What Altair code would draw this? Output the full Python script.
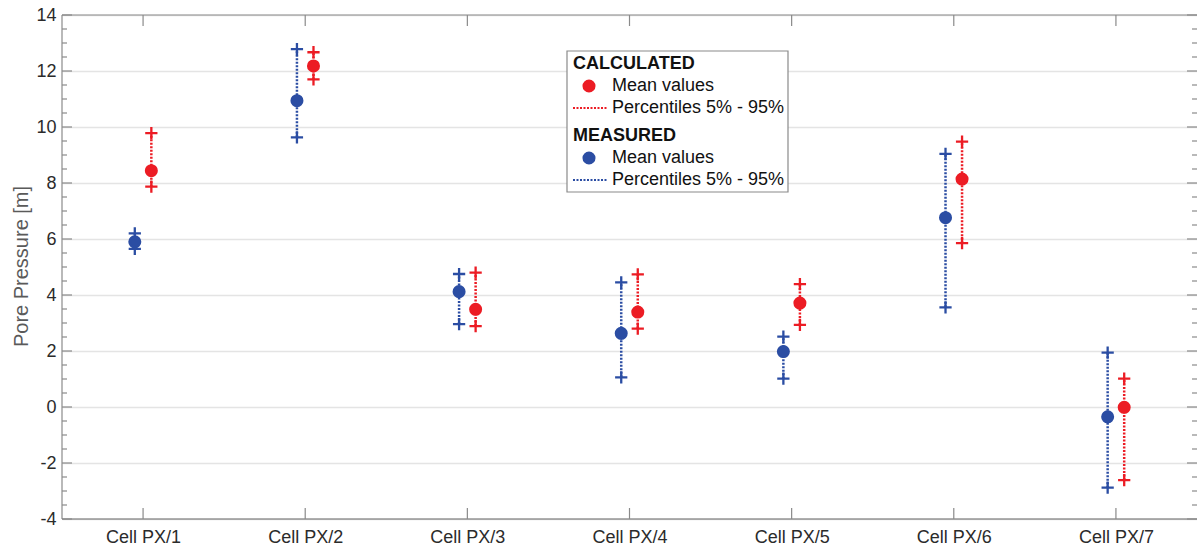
import altair as alt
import pandas as pd

# ---------------- data ----------------
cell_pos = [1, 2, 3, 4, 5, 6, 7]
cell_prefix = "Cell PX/"

meas_mean = [5.90, 10.94, 4.12, 2.63, 1.98, 6.76, -0.35]
meas_p5 = [5.65, 9.63, 2.96, 1.06, 1.01, 3.56, -2.88]
meas_p95 = [6.20, 12.78, 4.75, 4.45, 2.51, 9.04, 1.94]

calc_mean = [8.44, 12.18, 3.49, 3.39, 3.71, 8.14, -0.01]
calc_p5 = [7.87, 11.70, 2.89, 2.80, 2.93, 5.85, -2.61]
calc_p95 = [9.78, 12.67, 4.80, 4.74, 4.39, 9.48, 1.01]

y_major = [-4, -2, 0, 2, 4, 6, 8, 10, 12, 14]
y_minor = [v / 2 for v in range(-7, 28) if v % 4 != 0]

series_names = ["Calculated", "Measured"]
series_offset = {"Calculated": 0.051, "Measured": -0.051}

RED = "#EC1C24"
BLUE = "#2B4DA3"
FRAME = "#8a8a8a"
FONT = "Liberation Sans"

W, H = 1135, 504

rows = []
for name, means, p5s, p95s in [
    ("Measured", meas_mean, meas_p5, meas_p95),
    ("Calculated", calc_mean, calc_p5, calc_p95),
]:
    for c, m, lo, hi in zip(cell_pos, means, p5s, p95s):
        rows.append({"series": name, "xp": c + series_offset[name],
                     "mean": m, "p5": lo, "p95": hi})
df = pd.DataFrame(rows)

xscale = alt.Scale(domain=[0.5, 7.5], nice=False, zero=False)
yscale = alt.Scale(domain=[-4, 14], nice=False, zero=False)
color = alt.Color("series:N", scale=alt.Scale(domain=series_names, range=[RED, BLUE]),
                  legend=None)

xaxis = alt.Axis(values=cell_pos, labelExpr=f"'{cell_prefix}' + datum.value",
                 grid=False, ticks=False, tickSize=0, domain=False,
                 labelFont=FONT, labelFontSize=18, labelColor="#2b2b2b",
                 labelPadding=9, title=None)
yaxis = alt.Axis(values=y_major, labelExpr="'' + datum.value",
                 grid=True, gridColor="#e4e4e4", gridWidth=1.5,
                 ticks=False, tickSize=0, domain=False,
                 labelFont=FONT, labelFontSize=18, labelColor="#2b2b2b",
                 labelPadding=6,
                 title="Pore Pressure [m]", titleFont=FONT, titleFontSize=20,
                 titleFontWeight="normal", titleColor="#5a5a5a",
                 titleX=-41, titleY=251, titleAngle=-90,
                 titleAlign="center", titleBaseline="middle")

base = alt.Chart(df)

rules = base.mark_rule(strokeDash=[2, 1.5], strokeWidth=2.5).encode(
    x=alt.X("xp:Q", scale=xscale, axis=xaxis),
    y=alt.Y("p5:Q", scale=yscale, axis=yaxis),
    y2="p95:Q",
    color=color,
)

plus = base.transform_fold(["p5", "p95"], as_=["pct", "val"]).mark_point(
    shape="M-1,0L1,0M0,-1L0,1", filled=False, size=150, strokeWidth=2.3, opacity=1
).encode(
    x=alt.X("xp:Q", scale=xscale),
    y=alt.Y("val:Q", scale=yscale),
    color=color,
)

dots = base.mark_circle(size=170, opacity=1).encode(
    x=alt.X("xp:Q", scale=xscale),
    y=alt.Y("mean:Q", scale=yscale),
    color=color,
)

# ---------------- frame & inward ticks ----------------
major_df = pd.DataFrame({"v": y_major})
minor_df = pd.DataFrame({"v": y_minor})
cell_df = pd.DataFrame({"c": cell_pos})

frame_left = alt.Chart(major_df.head(1)).mark_rule(color=FRAME, strokeWidth=1.2).encode(
    x=alt.value(0), y=alt.value(0), y2=alt.value(H))
frame_top = alt.Chart(major_df.head(1)).mark_rule(color=FRAME, strokeWidth=1.2).encode(
    x=alt.value(0), x2=alt.value(W), y=alt.value(0))
frame_bottom = alt.Chart(major_df.head(1)).mark_rule(color="#666666", strokeWidth=1.2).encode(
    x=alt.value(0), x2=alt.value(W), y=alt.value(H))

lt_major = alt.Chart(major_df).mark_rule(color=FRAME, strokeWidth=1.2).encode(
    y=alt.Y("v:Q", scale=yscale), x=alt.value(0), x2=alt.value(10))
lt_minor = alt.Chart(minor_df).mark_rule(color=FRAME, strokeWidth=1.2).encode(
    y=alt.Y("v:Q", scale=yscale), x=alt.value(0), x2=alt.value(5))
rt_major = alt.Chart(major_df).mark_rule(color=FRAME, strokeWidth=1.2).encode(
    y=alt.Y("v:Q", scale=yscale), x=alt.value(W - 10), x2=alt.value(W))
rt_minor = alt.Chart(minor_df).mark_rule(color=FRAME, strokeWidth=1.2).encode(
    y=alt.Y("v:Q", scale=yscale), x=alt.value(W - 5), x2=alt.value(W))
top_t = alt.Chart(cell_df).mark_rule(color=FRAME, strokeWidth=1.2).encode(
    x=alt.X("c:Q", scale=xscale), y=alt.value(0), y2=alt.value(11))
bot_t = alt.Chart(cell_df).mark_rule(color=FRAME, strokeWidth=1.2).encode(
    x=alt.X("c:Q", scale=xscale), y=alt.value(H - 11), y2=alt.value(H))

# ---------------- legend ----------------
one = alt.Data(values=[{"k": 1}])
lg_x0, lg_y0 = 505, 36
lg_box = alt.Chart(one).mark_rect(fill="white", stroke="#8a8a8a", strokeWidth=1.2).encode(
    x=alt.value(lg_x0), x2=alt.value(lg_x0 + 221),
    y=alt.value(lg_y0), y2=alt.value(lg_y0 + 141))


def ltext(txt, x, y, bold=False):
    return alt.Chart(one).mark_text(
        align="left", baseline="middle", font=FONT, fontSize=18,
        fontWeight="bold" if bold else "normal", color="#111111"
    ).encode(x=alt.value(x), y=alt.value(y), text=alt.value(txt))


def ldot(col, x, y):
    return alt.Chart(one).mark_circle(size=170, opacity=1, color=col).encode(
        x=alt.value(x), y=alt.value(y))


def lline(col, x1, x2, y):
    return alt.Chart(one).mark_rule(color=col, strokeDash=[2, 1.5], strokeWidth=2).encode(
        x=alt.value(x1), x2=alt.value(x2), y=alt.value(y))


legend = [
    lg_box,
    ltext("CALCULATED", lg_x0 + 6, lg_y0 + 13, bold=True),
    ldot(RED, lg_x0 + 22, lg_y0 + 35),
    ltext("Mean values", lg_x0 + 45, lg_y0 + 35),
    lline(RED, lg_x0 + 6, lg_x0 + 40, lg_y0 + 57),
    ltext("Percentiles 5% - 95%", lg_x0 + 45, lg_y0 + 57),
    ltext("MEASURED", lg_x0 + 6, lg_y0 + 85, bold=True),
    ldot(BLUE, lg_x0 + 22, lg_y0 + 107),
    ltext("Mean values", lg_x0 + 45, lg_y0 + 107),
    lline(BLUE, lg_x0 + 6, lg_x0 + 40, lg_y0 + 129),
    ltext("Percentiles 5% - 95%", lg_x0 + 45, lg_y0 + 129),
]

chart = alt.layer(
    rules, plus, dots,
    frame_left, frame_top, frame_bottom,
    lt_major, lt_minor, rt_major, rt_minor, top_t, bot_t,
    *legend,
).properties(
    width=W, height=H,
    autosize=alt.AutoSizeParams(type="none"),
    padding={"left": 62, "top": 15, "right": 0, "bottom": 30},
    background="white",
).configure_view(stroke=None)

chart.save("out.html", embed_options={"renderer": "svg", "actions": False})
